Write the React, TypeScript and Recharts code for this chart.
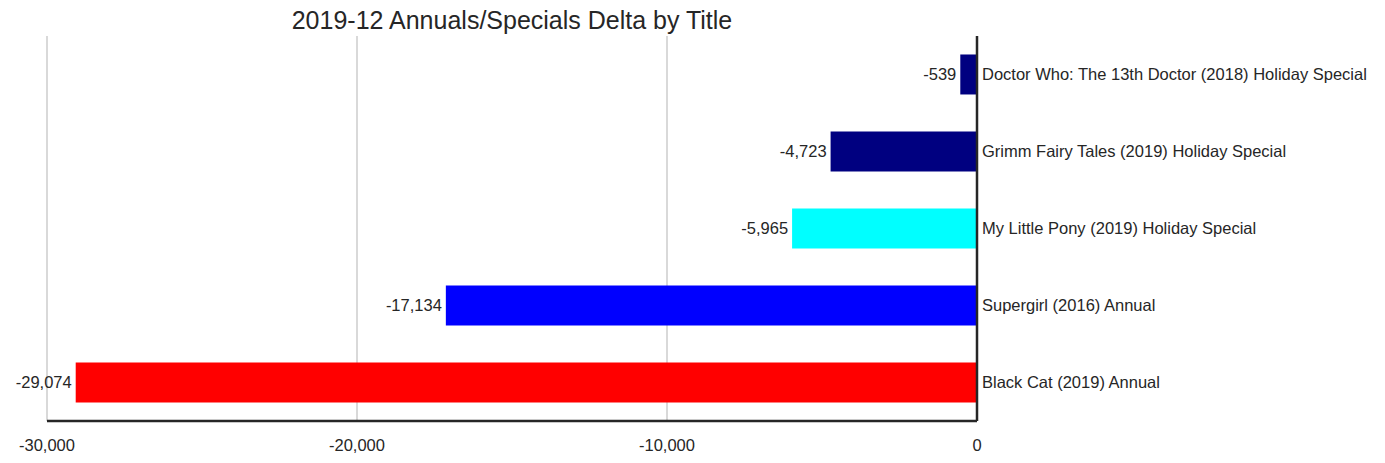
import React from "react";
import { BarChart, Bar, XAxis, YAxis, CartesianGrid, Cell, LabelList } from "recharts";

const categories = [
  "Doctor Who: The 13th Doctor (2018) Holiday Special",
  "Grimm Fairy Tales (2019) Holiday Special",
  "My Little Pony (2019) Holiday Special",
  "Supergirl (2016) Annual",
  "Black Cat (2019) Annual",
];
const deltas = [-539, -4723, -5965, -17134, -29074];
const barColors = ["#000080", "#000080", "#00ffff", "#0000ff", "#ff0000"];
const xTicks = [-30000, -20000, -10000, 0];
const title = "2019-12 Annuals/Specials Delta by Title";

const data = categories.map((name, i) => ({ name, value: deltas[i] }));

const FONT = "'Liberation Sans', Arial, sans-serif";
const TEXT = "#262626";
const LABEL_SIZE = 16.5;

const fmt = (v: number) => v.toLocaleString("en-US");

const ValueLabel = (props: any) => {
  const { x, y, width, height, value } = props;
  const left = Math.min(Number(x), Number(x) + Number(width));
  return (
    <text
      x={left - 4}
      y={Number(y) + Number(height) / 2}
      textAnchor="end"
      dominantBaseline="central"
      fontSize={LABEL_SIZE}
      fontFamily={FONT}
      fill={TEXT}
    >
      {fmt(Number(value))}
    </text>
  );
};

export default function App() {
  return (
    <div style={{ position: "absolute", left: 0, top: 0, width: 1385, height: 463, background: "#fff" }}>
      <div
        style={{
          position: "absolute",
          left: 0,
          top: 6,
          width: 1024,
          textAlign: "center",
          fontFamily: FONT,
          fontSize: 25,
          color: TEXT,
          lineHeight: "28px",
          whiteSpace: "nowrap",
        }}
      >
        {title}
      </div>
      <BarChart
        width={1385}
        height={463}
        data={data}
        layout="vertical"
        margin={{ top: 36, right: 0, bottom: 0, left: 47 }}
        barCategoryGap="24%"
      >
        <CartesianGrid horizontal={false} stroke="#cccccc" strokeWidth={1.5} />
        <XAxis
          type="number"
          domain={[-30000, 0]}
          ticks={xTicks}
          tickFormatter={fmt}
          axisLine={{ stroke: TEXT, strokeWidth: 2.5 }}
          tickLine={false}
          tickSize={6}
          tickMargin={12}
          height={42}
          tick={{ fill: TEXT, fontSize: LABEL_SIZE, fontFamily: FONT }}
          allowDataOverflow
        />
        <YAxis
          type="category"
          dataKey="name"
          orientation="right"
          width={408}
          axisLine={{ stroke: TEXT, strokeWidth: 2.5 }}
          tickLine={false}
          tickSize={3}
          tickMargin={2}
          interval={0}
          tick={{ fill: TEXT, fontSize: LABEL_SIZE, fontFamily: FONT, textAnchor: "start" }}
        />
        <Bar dataKey="value" isAnimationActive={false}>
          {data.map((d, i) => (
            <Cell key={d.name} fill={barColors[i]} />
          ))}
          <LabelList dataKey="value" content={ValueLabel} />
        </Bar>
      </BarChart>
    </div>
  );
}
